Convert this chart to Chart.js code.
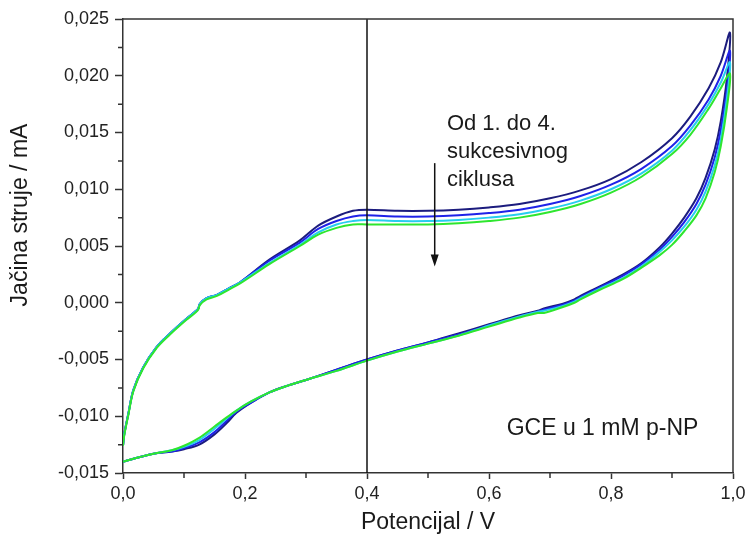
<!DOCTYPE html>
<html>
<head>
<meta charset="utf-8">
<script src="https://cdn.jsdelivr.net/npm/chart.js@4.4.1/dist/chart.umd.min.js"></script>
<style>
  html, body { margin: 0; padding: 0; background: #fff; }
</style>
</head>
<body>
<canvas id="cvChart" width="750" height="542"></canvas>
<script>
// potential (V) of the points on each branch
const upperPotential = [0, 0.002, 0.0087, 0.017, 0.033, 0.055, 0.077, 0.104, 0.118, 0.1235, 0.126, 0.137, 0.154,
  0.175, 0.192, 0.24, 0.29, 0.32, 0.35, 0.377, 0.4, 0.45, 0.5, 0.55, 0.6, 0.65, 0.7, 0.75, 0.8, 0.85, 0.9, 0.93,
  0.96, 0.98, 0.995];
const lowerPotential = [0, 0.02, 0.05, 0.08, 0.1, 0.125, 0.15, 0.17, 0.186, 0.21, 0.24, 0.27, 0.3, 0.35, 0.4,
  0.45, 0.5, 0.55, 0.6, 0.65, 0.68, 0.69, 0.72, 0.74, 0.75, 0.78, 0.82, 0.85, 0.88, 0.9, 0.92, 0.94, 0.955,
  0.97, 0.98, 0.99, 0.995];

// current (mA), anodic (upper) branch
const cycle1Upper = [-0.0126, -0.0116, -0.0098, -0.0077, -0.0057, -0.0039, -0.0027, -0.0014, -0.0008, -0.0005,
  -0.0001, 0.0004, 0.0007, 0.0013, 0.0018, 0.0038, 0.0055, 0.0068, 0.0076, 0.0081, 0.0082, 0.0081, 0.0081, 0.0082,
  0.0084, 0.0087, 0.0092, 0.0099, 0.0109, 0.0124, 0.0145, 0.0164, 0.0189, 0.0212, 0.0238];
const cycle2Upper = [-0.0126, -0.0116, -0.0098, -0.0077, -0.0057, -0.0039, -0.0027, -0.0014, -0.0008, -0.0005,
  -0.0001, 0.0004, 0.0007, 0.0013, 0.0018, 0.0037, 0.0053, 0.0065, 0.0072, 0.0076, 0.0077, 0.0076, 0.0076, 0.0077,
  0.0079, 0.0082, 0.0087, 0.0094, 0.0104, 0.0118, 0.0138, 0.0156, 0.0179, 0.0200, 0.0222];
const cycle3Upper = [-0.0126, -0.0116, -0.0098, -0.0077, -0.0057, -0.0039, -0.0027, -0.0014, -0.0008, -0.0005,
  -0.0001, 0.0004, 0.0007, 0.0013, 0.0018, 0.0035, 0.0051, 0.0062, 0.0069, 0.0072, 0.0073, 0.0072, 0.0072, 0.0073,
  0.0075, 0.0078, 0.0083, 0.0090, 0.0100, 0.0114, 0.0134, 0.0152, 0.0175, 0.0194, 0.0212];
const cycle4Upper = [-0.0126, -0.0117, -0.0099, -0.0078, -0.0058, -0.0040, -0.0028, -0.0015, -0.0009, -0.0006,
  -0.0002, 0.0003, 0.0006, 0.0012, 0.0017, 0.0034, 0.0050, 0.0060, 0.0066, 0.0069, 0.0069, 0.0069, 0.0069, 0.0070,
  0.0072, 0.0075, 0.0080, 0.0087, 0.0097, 0.0111, 0.0131, 0.0148, 0.0171, 0.0189, 0.0202];

// current (mA), cathodic (lower) branch
const cycle1Lower = [-0.0140, -0.0137, -0.0133, -0.0131, -0.0129, -0.0125, -0.0116, -0.0106, -0.0097, -0.0088,
  -0.0079, -0.0073, -0.0068, -0.0059, -0.0050, -0.0042, -0.0035, -0.0027, -0.0019, -0.0011, -0.0007, -0.0005,
  -0.0001, 0.0003, 0.0006, 0.0014, 0.0025, 0.0035, 0.0049, 0.0061, 0.0075, 0.0092, 0.0110, 0.0135, 0.0160,
  0.0198, 0.0238];
const cycle2Lower = [-0.0140, -0.0137, -0.0133, -0.0131, -0.0128, -0.0123, -0.0114, -0.0104, -0.0096, -0.0088,
  -0.0079, -0.0073, -0.0068, -0.0059, -0.0050, -0.0042, -0.0035, -0.0028, -0.0020, -0.0012, -0.0008, -0.0006,
  -0.0002, 0.0002, 0.0005, 0.0013, 0.0024, 0.0034, 0.0047, 0.0058, 0.0071, 0.0087, 0.0104, 0.0128, 0.0152,
  0.0188, 0.0222];
const cycle3Lower = [-0.0140, -0.0137, -0.0133, -0.0130, -0.0127, -0.0121, -0.0111, -0.0102, -0.0095, -0.0087,
  -0.0079, -0.0073, -0.0068, -0.0060, -0.0051, -0.0043, -0.0036, -0.0029, -0.0020, -0.0012, -0.0008, -0.0007,
  -0.0003, 0.0001, 0.0004, 0.0012, 0.0022, 0.0032, 0.0045, 0.0055, 0.0067, 0.0082, 0.0098, 0.0121, 0.0144,
  0.0180, 0.0212];
const cycle4Lower = [-0.0140, -0.0137, -0.0133, -0.0130, -0.0126, -0.0119, -0.0109, -0.0101, -0.0095, -0.0087,
  -0.0079, -0.0073, -0.0068, -0.0060, -0.0051, -0.0043, -0.0036, -0.0029, -0.0021, -0.0013, -0.0009, -0.0009,
  -0.0004, 0.0000, 0.0003, 0.0011, 0.0021, 0.0031, 0.0042, 0.0051, 0.0063, 0.0077, 0.0092, 0.0115, 0.0138,
  0.0172, 0.0202];

const cycleColors = ['#1c1c7e', '#1f22e8', '#27cdee', '#2ee62e'];
const markerPotential = 0.4;

// build one CV loop: lower branch forward, upper branch back
function cvLoop(lower, upper) {
    const pts = lowerPotential.map((v, i) => ({ x: v, y: lower[i] }));
    for (let i = upperPotential.length - 2; i >= 0; i--) {
        pts.push({ x: upperPotential[i], y: upper[i] });
    }
    return pts;
}

const loops = [
    cvLoop(cycle1Lower, cycle1Upper),
    cvLoop(cycle2Lower, cycle2Upper),
    cvLoop(cycle3Lower, cycle3Upper),
    cvLoop(cycle4Lower, cycle4Upper),
];

const FONT = "'Liberation Sans', Arial, sans-serif";
const AXIS = '#333333';

const extras = {
    id: 'extras',
    afterDraw(chart) {
        const { ctx, chartArea: a } = chart;
        const xs = chart.scales.x, ys = chart.scales.y;
        ctx.save();

        // top and right frame
        ctx.strokeStyle = AXIS;
        ctx.lineWidth = 1.5;
        ctx.beginPath();
        ctx.moveTo(a.left, a.top);
        ctx.lineTo(a.right, a.top);
        ctx.lineTo(a.right, a.bottom);
        ctx.stroke();

        // minor ticks
        ctx.beginPath();
        for (let v = 0.1; v < 1; v += 0.2) {
            const px = xs.getPixelForValue(v);
            ctx.moveTo(px, a.bottom);
            ctx.lineTo(px, a.bottom + 5);
        }
        for (let v = -0.0125; v < 0.025; v += 0.005) {
            const py = ys.getPixelForValue(v);
            ctx.moveTo(a.left, py);
            ctx.lineTo(a.left - 5, py);
        }
        ctx.stroke();

        // arrow
        const ax = xs.getPixelForValue(0.511);
        const ay0 = ys.getPixelForValue(0.0123);
        const ay1 = ys.getPixelForValue(0.0032);
        ctx.strokeStyle = '#111';
        ctx.fillStyle = '#111';
        ctx.lineWidth = 1.5;
        ctx.beginPath();
        ctx.moveTo(ax, ay0);
        ctx.lineTo(ax, ay1 - 10);
        ctx.stroke();
        ctx.beginPath();
        ctx.moveTo(ax - 4, ay1 - 12);
        ctx.lineTo(ax + 4, ay1 - 12);
        ctx.lineTo(ax, ay1);
        ctx.closePath();
        ctx.fill();

        // annotations
        ctx.fillStyle = '#1a1a1a';
        ctx.font = '22px ' + FONT;
        ctx.textAlign = 'left';
        ctx.textBaseline = 'alphabetic';
        const tx = xs.getPixelForValue(0.531);
        ctx.fillText('Od 1. do 4.', tx, 130);
        ctx.fillText('sukcesivnog', tx, 158);
        ctx.fillText('ciklusa', tx, 186);
        ctx.font = '23px ' + FONT;
        ctx.fillText('GCE u 1 mM p-NP', xs.getPixelForValue(0.629), 435);

        // axis titles
        ctx.font = '23px ' + FONT;
        ctx.textAlign = 'center';
        ctx.textBaseline = 'middle';
        ctx.fillText('Potencijal / V', (a.left + a.right) / 2, 523);
        ctx.translate(21, 215);
        ctx.rotate(-Math.PI / 2);
        ctx.fillText('Jačina struje / mA', 0, 0);
        ctx.restore();
    }
};

const ctx = document.getElementById('cvChart');

let cvChart = new Chart(ctx, {
    type: 'scatter',
    data: {
        datasets: [
            ...loops.map((pts, i) => ({
                label: (i + 1) + '. ciklus',
                data: pts,
                showLine: true,
                borderColor: cycleColors[i],
                borderWidth: 2,
                pointRadius: 0,
                tension: 0.35,
                order: 4 - i,
            })),
            {
                label: 'E = 0,4 V',
                data: [{ x: markerPotential, y: -0.015 }, { x: markerPotential, y: 0.025 }],
                showLine: true,
                borderColor: '#111',
                borderWidth: 1.5,
                pointRadius: 0,
                order: 0,
            }
        ]
    },
    options: {
        responsive: false,
        animation: false,
        layout: { padding: { top: 19, right: 17, left: 0, bottom: 0 } },
        plugins: {
            legend: { display: false },
            tooltip: { enabled: false },
        },
        scales: {
            x: {
                type: 'linear',
                min: 0,
                max: 1,
                afterFit: s => { s.height = 69; },
                ticks: {
                    stepSize: 0.2,
                    color: '#222',
                    font: { family: FONT, size: 18 },
                    padding: 4,
                    maxRotation: 0,
                    callback: v => v.toFixed(1).replace('.', ','),
                },
                grid: { drawOnChartArea: false, drawTicks: true, tickLength: 6, tickColor: AXIS, tickWidth: 1.5 },
                border: { color: AXIS, width: 1.5 },
            },
            y: {
                min: -0.015,
                max: 0.025,
                afterFit: s => { s.width = 123; },
                ticks: {
                    stepSize: 0.005,
                    color: '#222',
                    font: { family: FONT, size: 18 },
                    padding: 6,
                    callback: v => (Math.abs(v) < 1e-9 ? 0 : v).toFixed(3).replace('.', ','),
                },
                grid: { drawOnChartArea: false, drawTicks: true, tickLength: 8, tickColor: AXIS, tickWidth: 1.5 },
                border: { color: AXIS, width: 1.5 },
            }
        }
    },
    plugins: [extras]
});
</script>
</body>
</html>
